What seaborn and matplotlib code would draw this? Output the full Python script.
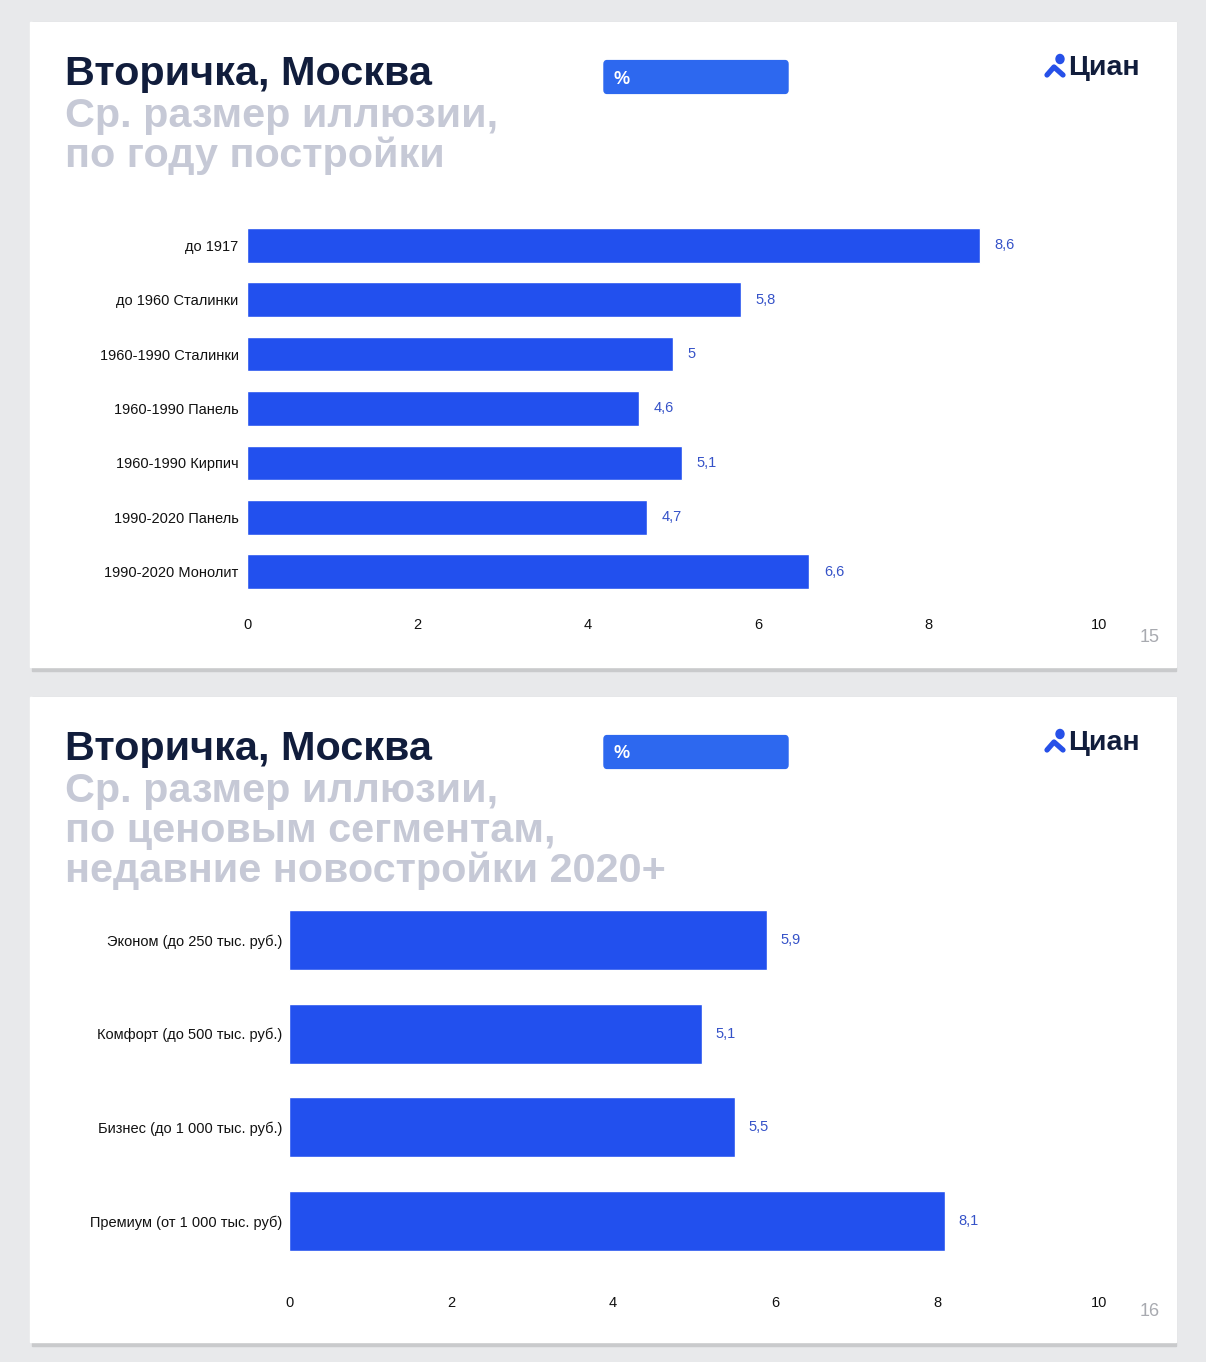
import numpy as np
import pandas as pd
import seaborn as sns
import matplotlib.pyplot as plt
import matplotlib.patches as mpatches

# данные
cats1 = ["до 1917", "до 1960 Сталинки", "1960-1990 Сталинки", "1960-1990 Панель",
         "1960-1990 Кирпич", "1990-2020 Панель", "1990-2020 Монолит"]
vals1 = [8.6, 5.8, 5.0, 4.6, 5.1, 4.7, 6.6]
cats2 = ["Эконом (до 250 тыс. руб.)", "Комфорт (до 500 тыс. руб.)",
         "Бизнес (до 1 000 тыс. руб.)", "Премиум (от 1 000 тыс. руб)"]
vals2 = [5.9, 5.1, 5.5, 8.1]
xticks = [0, 2, 4, 6, 8, 10]
subtitle1 = "Ср. размер иллюзии,\nпо году постройки"
subtitle2 = "Ср. размер иллюзии,\nпо ценовым сегментам,\nнедавние новостройки 2020+"

W, H = 1206, 1362
barColor = "#2250ee"
labColor = "#3552c8"
navy = "#111d3c"
grey = "#c6c9d6"

sns.set_theme(style="white")
plt.rcParams['font.family'] = ['Liberation Sans', 'DejaVu Sans']

fig = plt.figure(figsize=(W / 100, H / 100), dpi=100)
fig.patch.set_facecolor("#e8e9eb")


def fx(x):
    return x / W


def fy(y):
    return 1 - y / H


def slide(top, bottom, subtitle, page):
    # тень и сам слайд
    fig.add_artist(mpatches.Rectangle((fx(32), fy(bottom + 4)), fx(1144), (bottom + 4 - top) / H,
                                      transform=fig.transFigure, color="#c9cacc", zorder=0))
    fig.add_artist(mpatches.Rectangle((fx(30), fy(bottom)), fx(1146), (bottom - top) / H,
                                      transform=fig.transFigure, color="white", zorder=1))
    fig.text(fx(65), fy(top + 63), "Вторичка, Москва", fontsize=29.8, fontweight="bold",
             color=navy, va="baseline", zorder=3)
    for i, line in enumerate(subtitle.split("\n")):
        fig.text(fx(65), fy(top + 105 + 40 * i), line, fontsize=29.8, fontweight="bold",
                 color=grey, va="baseline", zorder=3)
    # плашка %
    fig.add_artist(mpatches.FancyBboxPatch((fx(607), fy(top + 68)), fx(178), 26 / H,
                                           boxstyle="round,pad=0.0025", transform=fig.transFigure,
                                           color="#2d68ef", zorder=3))
    fig.text(fx(614), fy(top + 57), "%", fontsize=13, fontweight="bold", color="white",
             va="center", zorder=4)
    # логотип
    fig.text(fx(1068), fy(top + 46), "Циан", fontsize=20.5, fontweight="bold", color=navy,
             va="center", zorder=4)
    fig.add_artist(mpatches.Circle((fx(1060), fy(top + 37)), 4 / W, transform=fig.transFigure,
                                   color="#2650e8", zorder=4))
    fig.add_artist(plt.Line2D([fx(1047), fx(1054), fx(1063)],
                              [fy(top + 53), fy(top + 45), fy(top + 53)], transform=fig.transFigure,
                              color="#2650e8", lw=3.8, solid_capstyle="round",
                              solid_joinstyle="round", zorder=4))
    fig.text(fx(1150), fy(bottom - 30), page, fontsize=13, color="#a8aab0",
             ha="center", va="center", zorder=4)


def chart(rect, cats, vals, pad, ypad):
    x0, x1, y0, y1 = rect
    ax = fig.add_axes([fx(x0), fy(y1), (x1 - x0) / W, (y1 - y0) / H])
    ax.set_zorder(5)
    df = pd.DataFrame({"cat": cats, "val": vals})
    sns.barplot(data=df, x="val", y="cat", ax=ax, color=barColor, saturation=1, width=0.64)
    for p, v in zip(ax.patches, vals):
        ax.text(p.get_width() + 0.17, p.get_y() + p.get_height() / 2,
                ("%g" % v).replace(".", ","), color=labColor, fontsize=10.5, va="center")
    ax.set_xlim(0, 10)
    ax.set_ylim(len(cats) - 0.5, -0.5)
    ax.set_xticks(xticks)
    ax.set_xlabel("")
    ax.set_ylabel("")
    ax.tick_params(axis="x", length=0, pad=pad, labelsize=10.5, labelcolor="#111111")
    ax.tick_params(axis="y", length=0, pad=ypad, labelsize=10.5, labelcolor="#111111")
    sns.despine(ax=ax, left=True, bottom=True)
    ax.patch.set_alpha(0)


slide(22, 667, subtitle1, "15")
slide(697, 1342, subtitle2, "16")
chart((247, 1099, 218, 599), cats1, vals1, 14, 6)
chart((289, 1099, 893, 1268), cats2, vals2, 20, 5)

fig.savefig("out.png", dpi=100, facecolor=fig.get_facecolor())
